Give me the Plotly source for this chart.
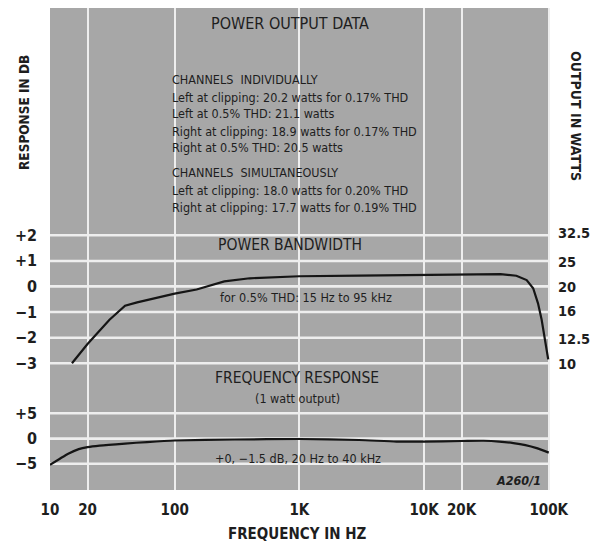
import plotly.graph_objects as go
import numpy as np

# ---------------- data ----------------
pb_freq = [15, 20, 30, 40, 50, 70, 100, 150, 200, 250, 400, 1000, 3000, 10000,
           30000, 41000, 55000, 66500, 75000, 82000, 87700, 93000, 99000]
pb_db = [-3.0, -2.25, -1.3, -0.75, -0.62, -0.45, -0.28, -0.12, 0.05, 0.2, 0.32,
         0.4, 0.42, 0.45, 0.48, 0.48, 0.42, 0.25, -0.07, -0.66, -1.3, -2.1, -2.85]

fr_freq = [10, 12, 14, 17, 20, 25, 40, 60, 100, 300, 1000, 3000, 6000, 10000,
           20000, 30000, 40000, 52000, 65000, 80000, 100000]
fr_db = [-5.2, -4.0, -3.0, -2.1, -1.7, -1.4, -1.0, -0.7, -0.4, -0.2, -0.1, -0.3,
         -0.6, -0.6, -0.5, -0.45, -0.6, -0.9, -1.3, -1.9, -2.8]

x_tickvals = [10, 20, 100, 1000, 10000, 20000, 100000]
x_ticktext = ["10", "20", "100", "1K", "10K", "20K", "100K"]

pb_tickvals = [-3, -2, -1, 0, 1, 2]
pb_ticktext = ["\u22123", "\u22122", "\u22121", "0", "+1", "+2"]

fr_tickvals = [-5, 0, 5]
fr_ticktext = ["\u22125", "0", "+5"]

watts_tickvals = [10, 12.5, 16, 20, 25, 32.5]
watts_ticktext = ["10", "12.5", "16", "20", "25", "32.5"]
watts_ref = 20.0  # watts corresponding to 0 dB

power_lines = [
    "CHANNELS  INDIVIDUALLY",
    "Left at clipping: 20.2 watts for 0.17% THD",
    "Left at 0.5% THD: 21.1 watts",
    "Right at clipping: 18.9 watts for 0.17% THD",
    "Right at 0.5% THD: 20.5 watts",
    "CHANNELS  SIMULTANEOUSLY",
    "Left at clipping: 18.0 watts for 0.20% THD",
    "Right at clipping: 17.7 watts for 0.19% THD",
]
power_line_y = [79, 97, 113, 131, 148, 172, 190, 207]

# ---------------- style ----------------
FONT = "Liberation Sans Narrow, DejaVu Sans Condensed, Arial Narrow, sans-serif"
TXT = "#1e1e1e"
BG = "#a7a7a7"
GRID = "#eeeeee"
W, H = 600, 544
ML, MR, MT, MB = 50, 50, 8, 54
PW, PH = W - ML - MR, H - MT - MB


def px(xp):
    return (xp - ML) / PW


def py(yp):
    return (MT + PH - yp) / PH


x_range = [1, 5.01]
pb_range = [-3.5, 2.52]
fr_range = [-8.02, 8.02]

# stacked, non-overlapping vertical bands (paper fractions, on whole pixels)
b_fr_lo, b_fr_hi = py(479), py(398)
b_pb_lo, b_pb_hi = py(376), py(222)

fig = go.Figure()

for ya in ["y", "y5", "y6", "y4"]:
    fig.add_trace(go.Scatter(x=[], y=[], xaxis="x", yaxis=ya, showlegend=False,
                             hoverinfo="skip"))

# horizontal grid lines at each tick value, spanning the x-axis range
x_span = [10 ** x_range[0], 10 ** x_range[1]]
for ya, vals in (("y2", pb_tickvals), ("y3", fr_tickvals)):
    for v in vals:
        fig.add_trace(go.Scatter(x=x_span, y=[v, v], xaxis="x", yaxis=ya,
                                 mode="lines", line=dict(color=GRID, width=2.5),
                                 showlegend=False))

fig.add_trace(go.Scatter(x=pb_freq, y=pb_db, xaxis="x", yaxis="y2", mode="lines",
                         line=dict(color="#151515", width=2.2), showlegend=False))
fig.add_trace(go.Scatter(x=fr_freq, y=fr_db, xaxis="x", yaxis="y3", mode="lines",
                         line=dict(color="#151515", width=2.2, shape="spline",
                                   smoothing=0.6),
                         showlegend=False))

tickfont = dict(family=FONT, size=16, color=TXT, weight="bold")
filler = dict(range=[0, 1], visible=False, showgrid=False, zeroline=False,
              anchor="x")

fig.update_layout(
    width=W, height=H,
    margin=dict(l=ML, r=MR, t=MT, b=MB),
    paper_bgcolor="white",
    plot_bgcolor=BG,
    showlegend=False,
    xaxis=dict(type="log", range=x_range, domain=[0, 1], anchor="y",
               tickvals=x_tickvals, ticktext=x_ticktext,
               tickfont=dict(family=FONT, size=15, color=TXT, weight="bold"),
               showgrid=True, gridcolor=GRID, gridwidth=2, zeroline=False,
               showline=False, ticks="", ticklabelstandoff=9),
    yaxis=dict(domain=[0, b_fr_lo], **filler),
    yaxis5=dict(domain=[b_fr_hi, b_pb_lo], **filler),
    yaxis6=dict(domain=[b_pb_hi, 1], **filler),
    yaxis2=dict(domain=[b_pb_lo, b_pb_hi], range=pb_range, anchor="x",
                tickvals=pb_tickvals, ticktext=pb_ticktext, tickfont=tickfont,
                showgrid=True, gridcolor=GRID, gridwidth=2, zeroline=False,
                ticks="", ticklabelstandoff=12),
    yaxis3=dict(domain=[b_fr_lo, b_fr_hi], range=fr_range, anchor="x",
                tickvals=fr_tickvals, ticktext=fr_ticktext, tickfont=tickfont,
                showgrid=True, gridcolor=GRID, gridwidth=2, zeroline=False,
                ticks="", ticklabelstandoff=12),
    yaxis4=dict(overlaying="y2", side="right", anchor="x", type="log",
                range=[np.log10(watts_ref * 10 ** (pb_range[0] / 10)),
                       np.log10(watts_ref * 10 ** (pb_range[1] / 10))],
                tickvals=watts_tickvals, ticktext=watts_ticktext,
                tickfont=dict(family=FONT, size=14.5, color=TXT, weight="bold"),
                showgrid=False, zeroline=False, ticks="", ticklabelstandoff=7),
)

ann = []


def add(text, xp, yp, size=13, xanchor="center", weight="normal", angle=0,
        italic=False):
    ann.append(dict(text=text, xref="paper", yref="paper", x=px(xp), y=py(yp),
                    xanchor=xanchor, yanchor="middle", showarrow=False,
                    textangle=angle,
                    font=dict(family=FONT, size=size, color=TXT, weight=weight,
                              style="italic" if italic else "normal")))


add("POWER OUTPUT DATA", 290, 23, size=16)
for t, yy in zip(power_lines, power_line_y):
    add(t, 170, yy, size=12.5, xanchor="left")
add("POWER BANDWIDTH", 290, 245, size=15.5)
add("for 0.5% THD: 15 Hz to 95 kHz", 306, 297, size=12.5)
add("FREQUENCY RESPONSE", 297, 378, size=15.5)
add("(1 watt output)", 297, 398, size=12.5)
add("+0, \u22121.5 dB, 20 Hz to 40 kHz", 298, 458, size=12.5)
add("A260/1", 518, 480, size=12.5, italic=True, weight="bold")
add("RESPONSE IN DB", 24, 113, size=13.5, weight="bold", angle=-90)
add("OUTPUT IN WATTS", 576, 116, size=14, weight="bold", angle=90)
add("FREQUENCY IN HZ", 297, 534, size=15, weight="bold")

fig.update_layout(annotations=ann)

fig.write_html("out.html",
               config={"displayModeBar": False},
               post_script="document.body.style.margin='0';"
                           "document.body.style.padding='0';")
